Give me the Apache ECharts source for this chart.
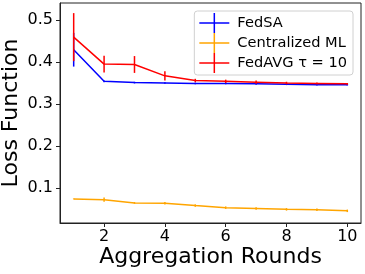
<!DOCTYPE html>
<html><head><meta charset="utf-8">
<script src="https://cdn.jsdelivr.net/npm/echarts@6/dist/echarts.min.js"></script>
<style>html,body{margin:0;padding:0;background:#fff}#c{width:365px;height:274px}</style>
</head><body><div id="c"></div>
<script>
var rounds = [1,2,3,4,5,6,7,8,9,10];
var fedsa = [0.429,0.354,0.351,0.350,0.349,0.349,0.348,0.347,0.346,0.346];
var fedsaErr = [0.04,0.002,0.002,0.002,0.002,0.002,0.002,0.002,0.002,0.002];
var central = [0.0748,0.073,0.0653,0.0646,0.059,0.054,0.052,0.050,0.049,0.0465];
var centralErr = [0.001,0.005,0.002,0.003,0.003,0.003,0.003,0.003,0.003,0.003];
var fedavg = [0.459,0.395,0.394,0.367,0.356,0.354,0.352,0.350,0.349,0.348];
var fedavgErr = [0.057,0.02,0.02,0.011,0.004,0.004,0.004,0.003,0.002,0.002];
var xTicks = [2,4,6,8,10];
var yTicks = [0.1,0.2,0.3,0.4,0.5];
var names = ['FedSA','Centralized ML','FedAVG \u03c4 = 10'];
var colors = ['#0000ff','#ffa500','#ff0000'];

var font = 'DejaVu Sans';
function pairs(v){return rounds.map(function(r,i){return [r,v[i]];});}
function errData(v,e){return rounds.map(function(r,i){return [r,v[i]-e[i],v[i]+e[i]];});}
function errSeries(name,v,e,color,z){
  return {type:'custom',name:name+'_err',z:z,silent:true,
    data:errData(v,e),
    renderItem:function(params,api){
      var p1=api.coord([api.value(0),api.value(1)]);
      var p2=api.coord([api.value(0),api.value(2)]);
      return {type:'line',shape:{x1:p1[0],y1:p1[1],x2:p2[0],y2:p2[1]},
        style:{stroke:color,lineWidth:1.5}};
    }};
}
function lineSeries(name,v,color,z){
  return {type:'line',name:name,z:z,data:pairs(v),showSymbol:false,symbol:'none',
    lineStyle:{color:color,width:1.5},itemStyle:{color:color},animation:false};
}
var icon='path://M0,9.25h30v1.5h-30z M14.25,0h1.5v20h-1.5z';
var chart = echarts.init(document.getElementById('c'),null,{renderer:'canvas'});
chart.setOption({
  animation:false,
  grid:{left:60,right:4,top:3,bottom:51,show:true,borderColor:'#222',borderWidth:1,
    containLabel:false,outerBoundsMode:'none'},
  legend:{data:names.map(function(n){return {name:n,icon:icon};}),
    orient:'vertical',right:12,top:11,itemWidth:30,itemHeight:20,itemGap:0,
    itemStyle:{borderWidth:0},
    borderColor:'#d0d0d0',borderWidth:1,borderRadius:3,padding:[2,6,2,5],
    textStyle:{fontFamily:font,fontSize:14.6,color:'#000',padding:[0,0,0,3]},
    selectedMode:false},
  xAxis:{type:'value',min:0.55,max:10.45,
    name:'Aggregation Rounds',nameLocation:'middle',nameGap:23,nameMoveOverlap:false,
    nameTextStyle:{fontFamily:font,fontSize:22,color:'#000',verticalAlign:'top'},
    axisLine:{show:true,onZero:false,lineStyle:{color:'#222'}},
    axisTick:{show:true,length:4,customValues:xTicks,lineStyle:{color:'#222'}},
    axisLabel:{customValues:xTicks,fontFamily:font,fontSize:16,color:'#000',margin:6},
    splitLine:{show:false}},
  yAxis:{type:'value',min:0.0176,max:0.54,
    name:'Loss Function',nameLocation:'middle',nameGap:38,nameMoveOverlap:false,
    nameTextStyle:{fontFamily:font,fontSize:22,color:'#000'},
    axisLine:{show:true,onZero:false,lineStyle:{color:'#222'}},
    axisTick:{show:true,length:4,customValues:yTicks,lineStyle:{color:'#222'}},
    axisLabel:{customValues:yTicks,fontFamily:font,fontSize:16,color:'#000',margin:7,
      formatter:function(v){return v.toFixed(1);}},
    splitLine:{show:false}},
  series:[
    lineSeries(names[0],fedsa,colors[0],2), errSeries(names[0],fedsa,fedsaErr,colors[0],2),
    lineSeries(names[1],central,colors[1],3), errSeries(names[1],central,centralErr,colors[1],3),
    lineSeries(names[2],fedavg,colors[2],4), errSeries(names[2],fedavg,fedavgErr,colors[2],4)
  ]
});
</script></body></html>
